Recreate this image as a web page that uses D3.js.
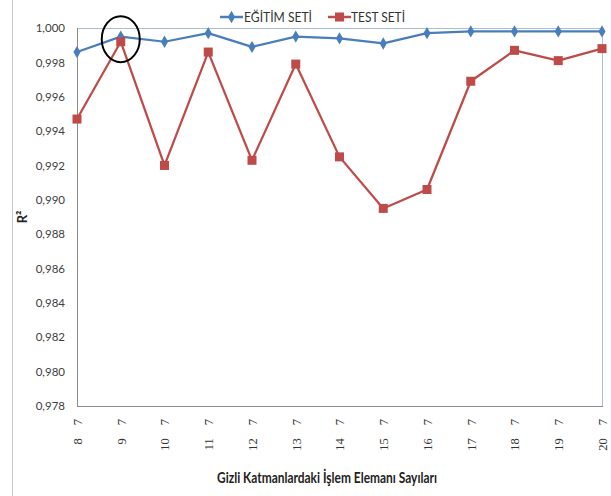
<!DOCTYPE html>
<html>
<head>
<meta charset="utf-8">
<script src="https://cdn.jsdelivr.net/npm/d3@7"></script>
<style>
  html, body { margin: 0; padding: 0; background: #fff; }
  svg { display: block; }
</style>
</head>
<body>
<svg id="chart" width="611" height="496"></svg>
<script>
// Hidden-layer neuron configurations (first layer, second layer)
const firstLayer = [8, 9, 10, 11, 12, 13, 14, 15, 16, 17, 18, 19, 20];
const secondLayer = [7, 7, 7, 7, 7, 7, 7, 7, 7, 7, 7, 7, 7];
// R² values per configuration
const trainR2 = [0.9986, 0.9995, 0.9992, 0.9997, 0.9989, 0.9995, 0.9994, 0.9991, 0.9997, 0.9998, 0.9998, 0.9998, 0.9998];
const testR2  = [0.9947, 0.9992, 0.9920, 0.9986, 0.9923, 0.9979, 0.9925, 0.9895, 0.9906, 0.9969, 0.9987, 0.9981, 0.9988];
const seriesNames = ["EĞİTİM SETİ", "TEST SETİ"];
const yTicks = [0.978, 0.980, 0.982, 0.984, 0.986, 0.988, 0.990, 0.992, 0.994, 0.996, 0.998, 1.000];
const highlightIndex = 1; // selected configuration (9 7)

const svg = d3.select("#chart");
const m = { left: 77, right: 602, top: 28, bottom: 406 };

const x = d3.scalePoint().domain(d3.range(firstLayer.length)).range([m.left, m.right]);
const y = d3.scaleLinear().domain([0.978, 1.000]).range([m.bottom, m.top]);

// outer chart frame (left edge)
svg.append("line").attr("x1", 12.5).attr("x2", 12.5).attr("y1", 0).attr("y2", 496)
  .attr("stroke", "#c8c8c8").attr("stroke-width", 1);

// plot area border
svg.append("line").attr("x1", m.left).attr("x2", m.right).attr("y1", m.top + 0.5).attr("y2", m.top + 0.5)
  .attr("stroke", "#a9bfd6").attr("stroke-width", 1);
svg.append("line").attr("x1", m.right + 0.5).attr("x2", m.right + 0.5).attr("y1", m.top).attr("y2", m.bottom)
  .attr("stroke", "#a9bfd6").attr("stroke-width", 1);
svg.append("line").attr("x1", m.left + 0.5).attr("x2", m.left + 0.5).attr("y1", m.top).attr("y2", m.bottom)
  .attr("stroke", "#8c8c8c").attr("stroke-width", 1);
svg.append("line").attr("x1", m.left).attr("x2", m.right + 1).attr("y1", m.bottom + 0.5).attr("y2", m.bottom + 0.5)
  .attr("stroke", "#8c8c8c").attr("stroke-width", 1);

// y axis labels
const yAxis = d3.axisLeft(y).tickValues(yTicks).tickSize(0).tickPadding(12)
  .tickFormat(d => d3.format(".3f")(d).replace(".", ","));
const gy = svg.append("g").attr("transform", `translate(${m.left},0)`).call(yAxis);
gy.select(".domain").remove();
gy.selectAll("text").attr("font-family", "Lato, 'Open Sans', sans-serif").attr("font-size", 11.5)
  .attr("fill", "#404040");

// x axis labels (rotated, two numbers per configuration)
const xAxis = d3.axisBottom(x).tickSize(0).tickFormat(() => "");
const gx = svg.append("g").attr("transform", `translate(0,${m.bottom})`).call(xAxis);
gx.select(".domain").remove();
gx.selectAll(".tick text").each(function (i) {
  const t = d3.select(this)
    .attr("font-family", "'Liberation Serif', 'Times New Roman', serif")
    .attr("font-size", 12.5)
    .attr("fill", "#333")
    .attr("text-anchor", "end")
    .attr("transform", "rotate(-90)")
    .attr("x", -13)
    .attr("y", 0)
    .attr("dy", "0.35em");
  t.text(null);
  t.append("tspan").text(firstLayer[i]);
  t.append("tspan").attr("dx", 13).text(secondLayer[i]);
});

// axis titles
svg.append("text").attr("x", 327).attr("y", 483).attr("text-anchor", "middle")
  .attr("font-family", "Lato, 'Open Sans', sans-serif").attr("font-weight", "bold")
  .attr("font-size", 15).attr("fill", "#222")
  .attr("textLength", 220).attr("lengthAdjust", "spacingAndGlyphs")
  .text("Gizli Katmanlardaki İşlem Elemanı Sayıları");
svg.append("text").attr("transform", "translate(27,217) rotate(-90)").attr("text-anchor", "middle")
  .attr("font-family", "Lato, 'Open Sans', sans-serif").attr("font-weight", "bold")
  .attr("font-size", 13).attr("fill", "#222")
  .text("R²");

const blue = "#4a7ebb", red = "#be4b48";
const line = d3.line().x((d, i) => x(i)).y(d => y(d));

// training series
svg.append("path").datum(trainR2).attr("d", line).attr("fill", "none")
  .attr("stroke", blue).attr("stroke-width", 2.25).attr("stroke-linejoin", "round");
// test series
svg.append("path").datum(testR2).attr("d", line).attr("fill", "none")
  .attr("stroke", red).attr("stroke-width", 2.25).attr("stroke-linejoin", "round");

const diamond = d3.symbol().type(d3.symbolDiamond).size(44);
svg.append("g").selectAll("path").data(trainR2).join("path")
  .attr("d", diamond).attr("transform", (d, i) => `translate(${x(i)},${y(d)})`).attr("fill", blue);
svg.append("g").selectAll("rect").data(testR2).join("rect")
  .attr("x", (d, i) => x(i) - 4.5).attr("y", d => y(d) - 4.5).attr("width", 9).attr("height", 9)
  .attr("fill", red);

// highlight ring around selected configuration
svg.append("ellipse")
  .attr("cx", x(highlightIndex)).attr("cy", (y(trainR2[highlightIndex]) + y(testR2[highlightIndex])) / 2)
  .attr("rx", 19).attr("ry", 23)
  .attr("fill", "none").attr("stroke", "#000").attr("stroke-width", 2);

// legend
const legend = [
  { name: seriesNames[0], color: blue, marker: "diamond", x0: 220, tx: 244, tw: 68 },
  { name: seriesNames[1], color: red, marker: "square", x0: 328, tx: 351, tw: 54 }
];
const lg = svg.append("g");
legend.forEach(l => {
  lg.append("line").attr("x1", l.x0).attr("x2", l.x0 + 23).attr("y1", 17).attr("y2", 17)
    .attr("stroke", l.color).attr("stroke-width", 2.5);
  if (l.marker === "diamond") {
    lg.append("path").attr("d", diamond).attr("transform", `translate(${l.x0 + 11.5},17)`).attr("fill", l.color);
  } else {
    lg.append("rect").attr("x", l.x0 + 7).attr("y", 12.5).attr("width", 9).attr("height", 9).attr("fill", l.color);
  }
  lg.append("text").attr("x", l.tx).attr("y", 22).attr("font-family", "Lato, 'Open Sans', sans-serif")
    .attr("font-size", 13.5).attr("fill", "#333")
    .attr("textLength", l.tw).attr("lengthAdjust", "spacingAndGlyphs").text(l.name);
});
</script>
</body>
</html>
